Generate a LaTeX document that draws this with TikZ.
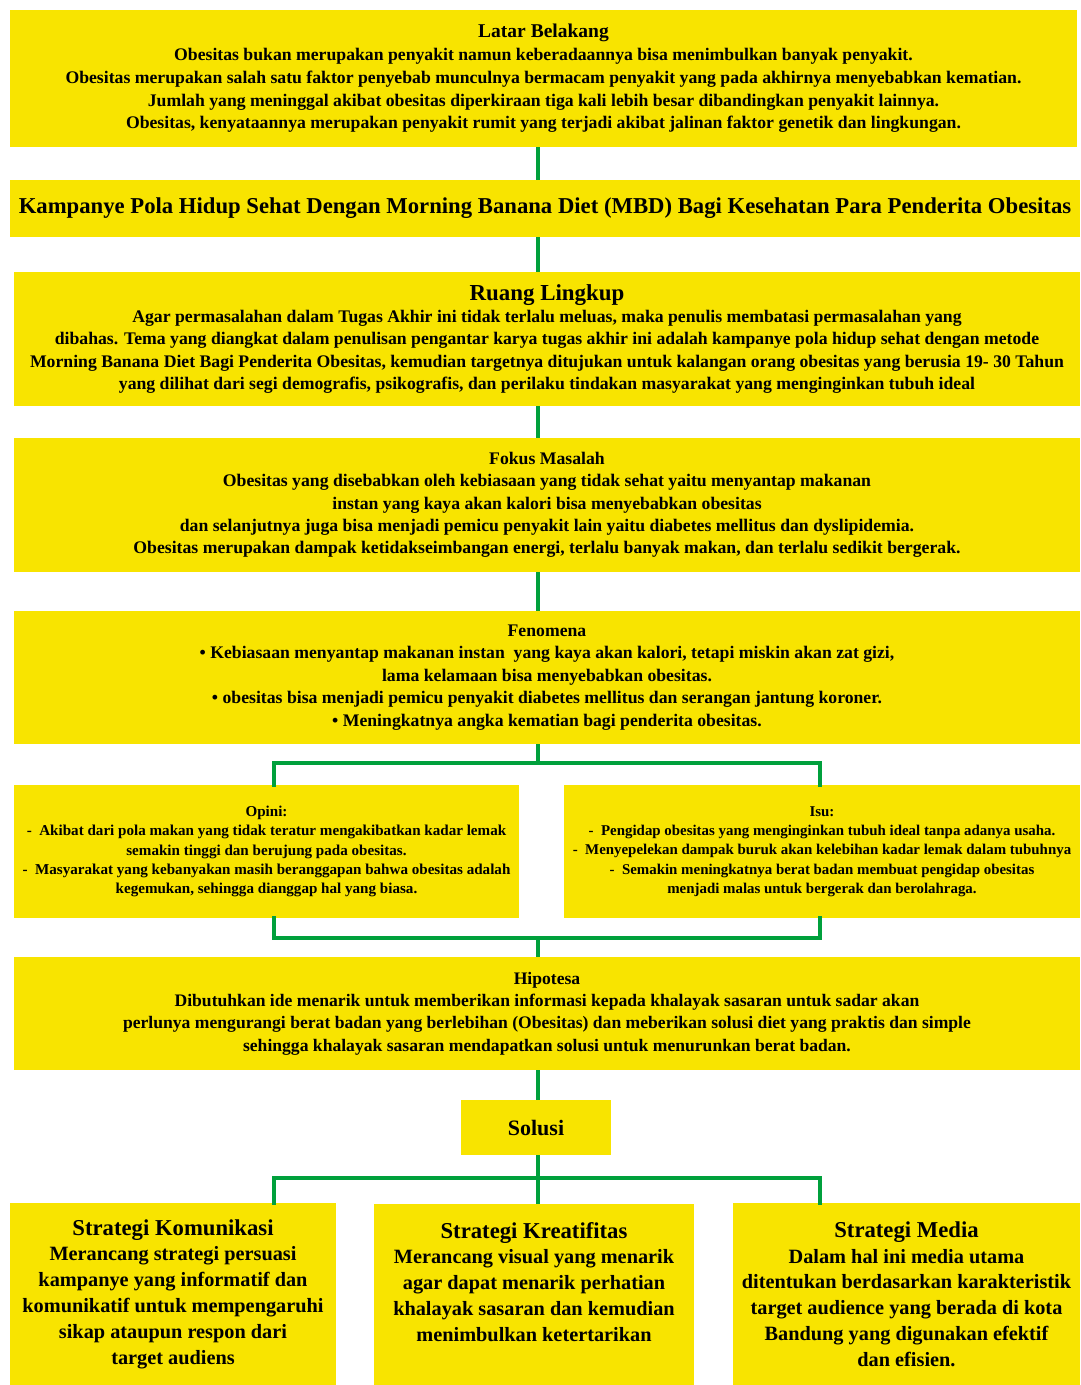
\documentclass[tikz,border=0pt]{standalone}
\usepackage{fontspec}
\setmainfont{Liberation Serif}
\definecolor{boxyellow}{RGB}{248,228,0}
\definecolor{linegreen}{RGB}{0,160,60}
\newcommand{\fs}[2]{\fontsize{#1}{#2}\selectfont}
\tikzset{
  ybox/.style={fill=boxyellow, draw=none, inner sep=0pt, align=center},
  conn/.style={draw=linegreen, line width=4pt}
}
\begin{document}
\begin{tikzpicture}[x=1pt,y=-1pt]
\useasboundingbox (0,0) rectangle (1080,1385);
\fill[white] (0,0) rectangle (1080,1385);

\node[ybox, minimum width=1067pt, minimum height=137pt, font=\bfseries\fs{17.7}{22.8}] (lb) at (543.5,78.5)
 {\fs{19.5}{22.8}Latar Belakang\\
  Obesitas bukan merupakan penyakit namun keberadaannya bisa menimbulkan banyak penyakit.\\
  Obesitas merupakan salah satu faktor penyebab munculnya bermacam penyakit yang pada akhirnya menyebabkan kematian.\\
  Jumlah yang meninggal akibat obesitas diperkiraan tiga kali lebih besar dibandingkan penyakit lainnya.\\
  Obesitas, kenyataannya merupakan penyakit rumit yang terjadi akibat jalinan faktor genetik dan lingkungan.};

\node[ybox, minimum width=1070pt, minimum height=57pt, font=\bfseries\fs{22.7}{26}] (judul) at (545,208.5)
 {Kampanye Pola Hidup Sehat Dengan Morning Banana Diet (MBD) Bagi Kesehatan Para Penderita Obesitas};

\node[ybox, minimum width=1066pt, minimum height=134pt, font=\bfseries\fs{17.7}{22.3}] (rl) at (547,339)
 {\fs{22.9}{24}Ruang Lingkup\\
  Agar permasalahan dalam Tugas Akhir ini tidak terlalu meluas, maka penulis membatasi permasalahan yang\\
  dibahas. Tema yang diangkat dalam penulisan pengantar karya tugas akhir ini adalah kampanye pola hidup sehat dengan metode\\
  Morning Banana Diet Bagi Penderita Obesitas, kemudian targetnya ditujukan untuk kalangan orang obesitas yang berusia 19- 30 Tahun\\
  yang dilihat dari segi demografis, psikografis, dan perilaku tindakan masyarakat yang menginginkan tubuh ideal};

\node[ybox, minimum width=1066pt, minimum height=134pt, font=\bfseries\fs{17.7}{22.3}] (fm) at (547,505)
 {Fokus Masalah\\
  Obesitas yang disebabkan oleh kebiasaan yang tidak sehat yaitu menyantap makanan\\
  instan yang kaya akan kalori bisa menyebabkan obesitas\\
  dan selanjutnya juga bisa menjadi pemicu penyakit lain yaitu diabetes mellitus dan dyslipidemia.\\
  Obesitas merupakan dampak ketidakseimbangan energi, terlalu banyak makan, dan terlalu sedikit bergerak.};

\node[ybox, minimum width=1066pt, minimum height=133pt, font=\bfseries\fs{17.7}{22.5}] (fen) at (547,677.5)
 {Fenomena\\
  • Kebiasaan menyantap makanan instan\ \ yang kaya akan kalori, tetapi miskin akan zat gizi,\\
  lama kelamaan bisa menyebabkan obesitas.\\
  • obesitas bisa menjadi pemicu penyakit diabetes mellitus dan serangan jantung koroner.\\
  • Meningkatnya angka kematian bagi penderita obesitas.};

\node[ybox, minimum width=505pt, minimum height=133pt, font=\bfseries\fs{15.1}{19.4}] (op) at (266.5,851.5)
 {Opini:\\
  -\ \ Akibat dari pola makan yang tidak teratur mengakibatkan kadar lemak\\
  semakin tinggi dan berujung pada obesitas.\\
  -\ \ Masyarakat yang kebanyakan masih beranggapan bahwa obesitas adalah\\
  kegemukan, sehingga dianggap hal yang biasa.};

\node[ybox, minimum width=516pt, minimum height=133pt, font=\bfseries\fs{14.9}{19.3}] (isu) at (822,851.5)
 {Isu:\\
  -\ \ Pengidap obesitas yang menginginkan tubuh ideal tanpa adanya usaha.\\
  -\ \ Menyepelekan dampak buruk akan kelebihan kadar lemak dalam tubuhnya\\
  -\ \ Semakin meningkatnya berat badan membuat pengidap obesitas\\
  menjadi malas untuk bergerak dan berolahraga.};

\node[ybox, minimum width=1066pt, minimum height=113pt, font=\bfseries\fs{17.6}{22.4}] (hip) at (547,1013.5)
 {Hipotesa\\
  Dibutuhkan ide menarik untuk memberikan informasi kepada khalayak sasaran untuk sadar akan\\
  perlunya mengurangi berat badan yang berlebihan (Obesitas) dan meberikan solusi diet yang praktis dan simple\\
  sehingga khalayak sasaran mendapatkan solusi untuk menurunkan berat badan.};

\node[ybox, minimum width=150pt, minimum height=55pt, font=\bfseries\fs{22}{26}] (sol) at (536,1127.5)
 {Solusi};

\node[ybox, minimum width=326pt, minimum height=182pt, font=\bfseries\fs{20.3}{25.8}] (sk) at (173,1294)
 {\fs{22.7}{27}Strategi Komunikasi\\
  Merancang strategi persuasi\\
  kampanye yang informatif dan\\
  komunikatif untuk mempengaruhi\\
  sikap ataupun respon dari\\
  target audiens};

\node[ybox, minimum width=320pt, minimum height=181pt, font=\bfseries\fs{20.3}{25.8}] (skr) at (534,1294.5)
 {\fs{22.7}{27}Strategi Kreatifitas\\
  Merancang visual yang menarik\\
  agar dapat menarik perhatian\\
  khalayak sasaran dan kemudian\\
  menimbulkan ketertarikan\\ \mbox{}};

\node[ybox, minimum width=347pt, minimum height=182pt, font=\bfseries\fs{20.3}{25.8}] (sm) at (906.5,1294)
 {\fs{22.7}{27}Strategi Media\\
  Dalam hal ini media utama\\
  ditentukan berdasarkan karakteristik\\
  target audience yang berada di kota\\
  Bandung yang digunakan efektif\\
  dan efisien.};

% connectors
\coordinate (c1) at (538,763);
\coordinate (c2) at (538,938);
\coordinate (c3) at (538,1178);
\draw[conn] (lb.south -| c1) -- (judul.north -| c1);
\draw[conn] (judul.south -| c1) -- (rl.north -| c1);
\draw[conn] (rl.south -| c1) -- (fm.north -| c1);
\draw[conn] (fm.south -| c1) -- (fen.north -| c1);
\draw[conn] (fen.south -| c1) -- (c1);
\draw[conn, line cap=rect] (op.north -| 274,0) -- (274,763) -- (820,763) -- (isu.north -| 820,0);
\draw[conn, line cap=rect] (op.south -| 274,0) -- (274,938) -- (820,938) -- (isu.south -| 820,0);
\draw[conn] (c2) -- (hip.north -| c2);
\draw[conn] (hip.south -| c3) -- (sol.north -| c3);
\draw[conn] (sol.south -| c3) -- (c3);
\draw[conn, line cap=rect] (sk.north -| 274,0) -- (274,1178) -- (820,1178) -- (sm.north -| 820,0);
\draw[conn] (c3) -- (skr.north -| c3);
\end{tikzpicture}
\end{document}
